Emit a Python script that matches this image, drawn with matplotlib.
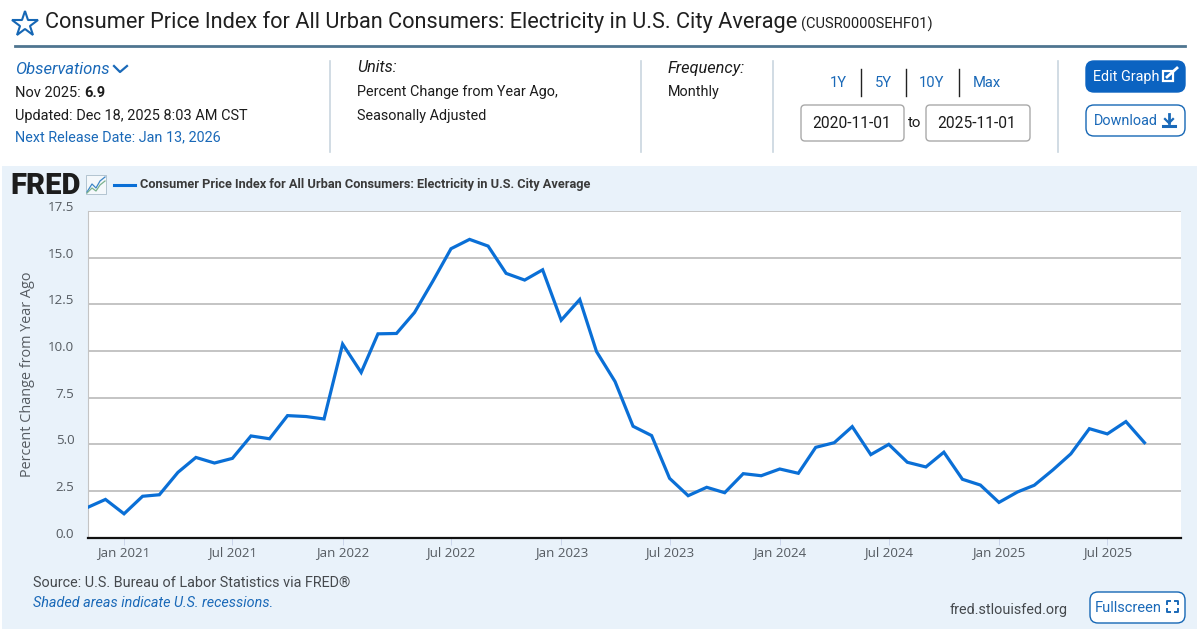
import numpy as np
import pandas as pd
import matplotlib
matplotlib.use("Agg")
import matplotlib.pyplot as plt
import matplotlib.dates as mdates
from matplotlib.patches import FancyBboxPatch, Rectangle

# datos, mensual desde nov 2020
start_month = "2020-11-01"
values = [1.62, 2.05, 1.28, 2.22, 2.30, 3.50, 4.30, 4.00, 4.25, 5.45,
          5.30, 6.54, 6.49, 6.36, 10.37, 8.85, 10.92, 10.94, 12.06, 13.76,
          15.48, 15.98, 15.62, 14.16, 13.80, 14.35, 11.65, 12.76, 9.97, 8.36,
          5.97, 5.47, 3.18, 2.25, 2.70, 2.41, 3.43, 3.32, 3.68, 3.45,
          4.84, 5.09, 5.95, 4.45, 5.00, 4.04, 3.79, 4.58, 3.13, 2.82,
          1.89, 2.45, 2.81, 3.63, 4.49, 5.84, 5.56, 6.22, 5.09]
y_ticks = [0, 2.5, 5, 7.5, 10, 12.5, 15, 17.5]
x_ticks = ["2021-01-01", "2021-07-01", "2022-01-01", "2022-07-01", "2023-01-01",
           "2023-07-01", "2024-01-01", "2024-07-01", "2025-01-01", "2025-07-01"]
x_range = ["2020-11-01", "2025-11-01"]
series_name = "Consumer Price Index for All Urban Consumers: Electricity in U.S. City Average"

BLUE = "#1a69b8"
DARK = "#1c1c1c"
GREY = "#555b61"
RULE = "#c9d6df"
W, H = 1200, 629

plt.rcParams["font.family"] = ["Roboto", "DejaVu Sans"]
fig = plt.figure(figsize=(W / 100, H / 100), dpi=100, facecolor="white")

# capa de fondo en pixeles para la cabecera
page = fig.add_axes([0, 0, 1, 1])
page.set_xlim(0, W)
page.set_ylim(H, 0)
page.axis("off")


def label(x, y, s, size=10.5, color=DARK, **kw):
    kw.setdefault("va", "center")
    page.text(x, y + 1, s, fontsize=size, color=color, **kw)


def button(x, y, w, h, face, edge, r=6):
    page.add_patch(FancyBboxPatch((x + r, y + r), w - 2 * r, h - 2 * r, boxstyle=f"round,pad={r}",
                                  fc=face, ec=edge, lw=1.0))


# titulo
page.plot([25], [24], marker="*", ms=19, mfc="none", mec="#1667b5", mew=1.5)
label(45, 21, "Consumer Price Index for All Urban Consumers: Electricity in U.S. City Average", size=15.65, color="#202020")
label(801, 23, "(CUSR0000SEHF01)", size=10.5, color="#202020")
page.plot([15, 1185], [45.5, 45.5], color="#4f7590", lw=2)

# bloque de observaciones
label(15, 68, "Observations", size=12, color=BLUE, style="italic")
page.plot([114, 120, 127], [66, 72, 66], color=BLUE, lw=1.6)
label(15, 92, "Nov 2025: ", size=10.5)
label(84, 92, "6.9", size=10.5, weight="bold")
label(15, 115, "Updated: Dec 18, 2025 8:03 AM CST", size=10.45)
label(15, 136.5, "Next Release Date: Jan 13, 2026", size=10.4, color=BLUE)

label(357, 67, "Units:", size=11.6, style="italic")
label(357, 91, "Percent Change from Year Ago,", size=10.4)
label(357, 115, "Seasonally Adjusted", size=10.4)

label(668, 67, "Frequency:", size=11.8, style="italic")
label(668, 91, "Monthly", size=10.4)

for x in [329.5, 640.5, 772.5, 1057.5]:
    page.plot([x, x], [61, 152], color=RULE, lw=1.2)

# botones de rango
for x, s in zip([838, 883, 932, 987], ["1Y", "5Y", "10Y", "Max"]):
    label(x, 82, s, size=10.6, color=BLUE, ha="center")
for x in [860.5, 906, 959]:
    page.plot([x, x], [69, 96], color="#222222", lw=1)
button(801, 105, 103, 36, "white", "#a9a9a9", r=4)
button(926, 105, 104, 36, "white", "#a9a9a9", r=4)
label(851.5, 123, "2020-11-01", size=11.2, ha="center")
label(977, 123, "2025-11-01", size=11.2, ha="center")
label(915, 122, "to", size=10.8, ha="center")

button(1086, 61, 99, 31, "#0b63c1", "#0b63c1", r=8)
label(1093, 76, "Edit Graph", size=10.4, color="white")
page.add_patch(Rectangle((1163, 71), 10, 10, fc="none", ec="white", lw=1.6))
page.plot([1167, 1177], [77, 68], color="white", lw=2)
button(1086, 105, 99, 31, "white", "#1667b5", r=8)
label(1094, 120, "Download", size=10.4, color=BLUE)
page.plot([1169, 1169], [114, 123], color=BLUE, lw=2)
page.plot([1165, 1169, 1173], [119, 123, 119], color=BLUE, lw=1.6)
page.plot([1163, 1175], [126, 126], color=BLUE, lw=2.2)

# panel del grafico
page.add_patch(Rectangle((2, 166), 1195, 463, fc="#e9f2fa", ec="none"))

label(10, 185, "FRED", size=21, color="#1d1d1d", weight="black", family="Roboto")
page.add_patch(Rectangle((86, 175), 20, 19, fc="#f4f8fb", ec="#a9bcc9", lw=0.6))
page.plot([87, 92, 96, 100, 105], [192, 184, 188, 181, 177], color="#3d86c6", lw=0.9)
page.plot([87, 92, 96, 100, 105], [193, 188, 191, 185, 181], color="#7bb28e", lw=0.9)
page.plot([114, 135], [184.5, 184.5], color="#0a6fd6", lw=2.2)
label(140, 183.5, series_name, size=9.15, color="#3a3a3a", weight="bold")

label(33, 582, "Source: U.S. Bureau of Labor Statistics via FRED\u00ae", size=10.4, color="#45494d")
label(33, 602, "Shaded areas indicate U.S. recessions.", size=10.4, color=BLUE, style="italic")
label(1068, 609, "fred.stlouisfed.org", size=10.4, color="#45494d", ha="right")
button(1090, 592, 95, 31, "white", "#1667b5", r=8)
label(1095, 607, "Fullscreen", size=10.5, color=BLUE)
for cx, cy, dx, dy in [(1167, 601, 1, 1), (1178, 601, -1, 1), (1167, 612, 1, -1), (1178, 612, -1, -1)]:
    page.plot([cx + 3 * dx, cx, cx], [cy, cy, cy + 3 * dy], color=BLUE, lw=1.4)

# grafico principal
left, right, top, bottom = 87.5, 1181, 211, 537.7
ax = fig.add_axes([left / W, 1 - bottom / H, (right - left) / W, (bottom - top) / H])
dates = pd.date_range(start_month, periods=len(values), freq="MS")
ax.plot(dates, values, color="#0a6fd6", lw=2.3, solid_joinstyle="miter", zorder=3)
ax.set_xlim(pd.Timestamp(x_range[0]), pd.Timestamp(x_range[1]))
ax.set_ylim(y_ticks[0], y_ticks[-1])
ax.set_facecolor("white")

ax.set_yticks(y_ticks)
ax.set_yticklabels([f"{v:.1f}" for v in y_ticks], va="baseline")
ax.set_xticks(pd.to_datetime(x_ticks))
ax.xaxis.set_major_formatter(mdates.DateFormatter("%b %Y"))
ax.grid(True, axis="y", color="#bfbfbf", lw=1.3)
ax.set_axisbelow(True)
for s in ["top", "right"]:
    ax.spines[s].set_visible(False)
ax.spines["left"].set_color("#c4c4c4")
ax.spines["left"].set_linewidth(0.8)
ax.spines["bottom"].set_color("#111111")
ax.spines["bottom"].set_linewidth(1.6)
ax.tick_params(axis="y", length=0, pad=9.5, labelsize=9.6, labelcolor=GREY, labelfontfamily="Open Sans")
ax.tick_params(axis="x", length=5, width=0.7, color="#ccd6eb", pad=1, labelsize=9.6, labelcolor=GREY, labelfontfamily="Open Sans")
ax.set_ylabel("Percent Change from Year Ago", fontsize=10.4, color=GREY, family="Open Sans", va="center")
ax.yaxis.set_label_coords((28 - left) / (right - left), 0.50)

fig.savefig("out.png", dpi=100, facecolor="white")
